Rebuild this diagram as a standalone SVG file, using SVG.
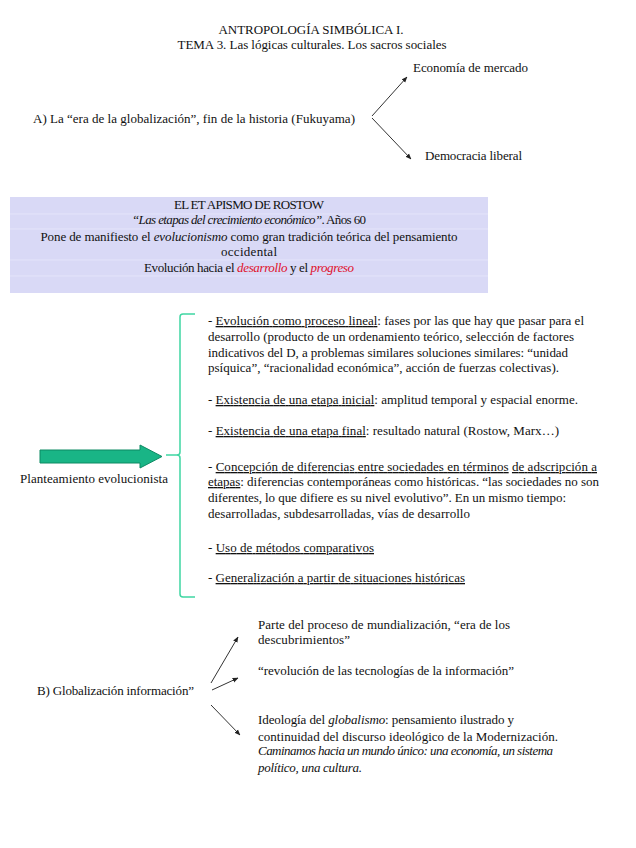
<svg xmlns="http://www.w3.org/2000/svg" width="636" height="848" viewBox="0 0 636 848">
<defs>
<style>
text{font-family:"Liberation Serif","Times New Roman",serif;font-size:13px;fill:#111}
.c{text-anchor:middle}
.i{font-style:italic}
.u{text-decoration:underline}
.r{fill:#e0102a;font-style:italic}
.conn line{stroke:#333;stroke-width:1}
</style>
<marker id="ah" viewBox="0 0 10 10" refX="9" refY="5" markerWidth="6" markerHeight="6" orient="auto">
<path d="M0,1 L10,5 L0,9 z" fill="#222"/>
</marker>
</defs>
<rect width="636" height="848" fill="#fff"/>

<g id="title">
<text class="c" x="311" y="34" textLength="185">ANTROPOLOGÍA SIMBÓLICA I.</text>
<text class="c" x="312" y="49" textLength="269">TEMA 3. Las lógicas culturales. Los sacros sociales</text>
</g>

<g id="nodeA">
<text x="33" y="123" textLength="322">A)  La “era de la globalización”, fin de la historia (Fukuyama)</text>
</g>
<g id="economia"><text x="413" y="72" textLength="115">Economía de mercado</text></g>
<g id="democracia"><text x="425" y="160" textLength="97">Democracia liberal</text></g>

<g id="rostow">
<rect x="10" y="197" width="478" height="96" fill="#d9d9f6"/>
<line x1="10" y1="214" x2="488" y2="214" stroke="#e4e4fa" stroke-width="1"/>
<line x1="10" y1="229" x2="488" y2="229" stroke="#e4e4fa" stroke-width="1"/>
<line x1="10" y1="260" x2="488" y2="260" stroke="#e4e4fa" stroke-width="1"/>
<line x1="10" y1="276" x2="488" y2="276" stroke="#e4e4fa" stroke-width="1"/>
<text class="c" x="249" y="209" textLength="150">EL ET APISMO DE ROSTOW</text>
<text class="c" x="249" y="224" textLength="234"><tspan class="i">“Las etapas del crecimiento económico”</tspan>. Años 60</text>
<text class="c" x="249" y="241" textLength="417">Pone de manifiesto el <tspan class="i">evolucionismo</tspan> como gran tradición teórica del pensamiento</text>
<text class="c" x="249" y="256" textLength="56">occidental</text>
<text class="c" x="249" y="272" textLength="210">Evolución hacia el <tspan class="r">desarrollo</tspan> y el <tspan class="r">progreso</tspan></text>
</g>

<g id="planteamiento">
<path d="M40,450 H140 V445 L162,456.5 L140,468 V463 H40 Z" fill="#19b586" stroke="#0d8a63" stroke-width="1"/>
<text x="20" y="483" textLength="148">Planteamiento evolucionista</text>
</g>

<g id="bracket">
<path d="M195,314 H183 Q180,314 180,317 V452 Q180,455 177,455 H166 M177,455 Q180,455 180,458 V594 Q180,597 183,597 H195" fill="none" stroke="#3fd6a2" stroke-width="1.5"/>
</g>

<g id="caracteristicas">
<text x="208" y="325" textLength="376">- <tspan class="u">Evolución como proceso lineal</tspan>: fases por las que hay que pasar para el</text>
<text x="208" y="341" textLength="366">desarrollo (producto de un ordenamiento teórico, selección de factores</text>
<text x="208" y="357" textLength="360">indicativos del D, a problemas similares soluciones similares: “unidad</text>
<text x="208" y="372" textLength="351">psíquica”, “racionalidad económica”, acción de fuerzas colectivas).</text>
<text x="208" y="404" textLength="370">- <tspan class="u">Existencia de una etapa inicial</tspan>: amplitud temporal y espacial enorme.</text>
<text x="208" y="435" textLength="351">- <tspan class="u">Existencia de una etapa final</tspan>: resultado natural (Rostow, Marx…)</text>
<text x="208" y="471" textLength="389">- <tspan class="u">Concepción de diferencias entre sociedades en términos</tspan> <tspan class="u">de adscripción a</tspan></text>
<text x="208" y="486" textLength="391"><tspan class="u">etapas</tspan>: diferencias contemporáneas como históricas. “las sociedades no son</text>
<text x="208" y="502" textLength="358">diferentes, lo que difiere es su nivel evolutivo”. En un mismo tiempo:</text>
<text x="208" y="518" textLength="262">desarrolladas, subdesarrolladas, vías de desarrollo</text>
<text x="208" y="552" textLength="166">- <tspan class="u">Uso de métodos comparativos</tspan></text>
<text x="208" y="582" textLength="257">- <tspan class="u">Generalización a partir de situaciones históricas</tspan></text>
</g>

<g id="nodeB"><text x="37" y="695" textLength="157">B) Globalización información”</text></g>
<g id="mundializacion">
<text x="258" y="629" textLength="252">Parte del proceso de mundialización, “era de los</text>
<text x="258" y="644" textLength="92">descubrimientos”</text>
</g>
<g id="revolucion"><text x="258" y="675" textLength="256">“revolución de las tecnologías de la información”</text></g>
<g id="globalismo">
<text x="258" y="724" textLength="256">Ideología del <tspan class="i">globalismo</tspan>: pensamiento ilustrado y</text>
<text x="258" y="741" textLength="300">continuidad del discurso ideológico de la Modernización.</text>
<text class="i" x="258" y="755" textLength="295">Caminamos hacia un mundo único: una economía, un sistema</text>
<text class="i" x="258" y="772" textLength="104">político, una cultura.</text>
</g>

<g class="conn" id="connectors">
<line x1="372" y1="116" x2="407" y2="77" marker-end="url(#ah)"/>
<line x1="372" y1="118" x2="411" y2="159" marker-end="url(#ah)"/>
<line x1="211" y1="683" x2="238" y2="637" marker-end="url(#ah)"/>
<line x1="212" y1="690" x2="238" y2="678" marker-end="url(#ah)"/>
<line x1="211" y1="705" x2="240" y2="735" marker-end="url(#ah)"/>
</g>
</svg>
